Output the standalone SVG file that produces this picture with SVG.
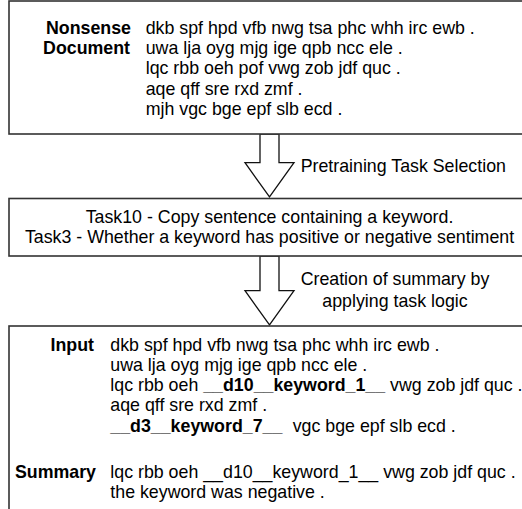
<svg xmlns="http://www.w3.org/2000/svg" width="522" height="509" viewBox="0 0 522 509">
<style>
.box{fill:#fff;stroke:#333;stroke-width:1.6}
.arr{fill:#fff;stroke:#111;stroke-width:1.3;stroke-linejoin:miter}
text{font-family:"Liberation Sans",Arial,sans-serif;font-size:17.8px;fill:#000}
.b{font-weight:bold}
.r{text-anchor:end}
.c{text-anchor:middle}
</style>
<rect width="522" height="509" fill="#fff"/>
<g id="connectors">
<polygon class="arr" points="260,134 279,134 279,162.7 294,162.7 269.5,197 245,162.7 260,162.7"/>
<polygon class="arr" points="260,256 279,256 279,290.7 294,290.7 269.5,325 245,290.7 260,290.7"/>
<text x="403.3" y="172" class="c">Pretraining Task Selection</text>
<text x="395" y="285" class="c">Creation of summary by</text>
<text x="395" y="306.5" class="c">applying task logic</text>
</g>
<g id="nonsense-document">
<rect class="box" x="9" y="1" width="540" height="133"/>
<text x="131" y="33.7" class="b r">Nonsense</text>
<text x="130" y="54" class="b r">Document</text>
<text x="145.7" y="33.7">dkb spf hpd vfb nwg tsa phc whh irc ewb .</text>
<text x="145.7" y="54">uwa lja oyg mjg ige qpb ncc ele .</text>
<text x="145.7" y="74.3">lqc rbb oeh pof vwg zob jdf quc .</text>
<text x="145.7" y="94.5">aqe qff sre rxd zmf .</text>
<text x="145.7" y="114.7">mjh vgc bge epf slb ecd .</text>
</g>
<g id="tasks">
<rect class="box" x="9" y="198.5" width="540" height="57.5"/>
<text x="269.5" y="223.3" class="c">Task10 - Copy sentence containing a keyword.</text>
<text x="269.5" y="243.3" class="c">Task3 - Whether a keyword has positive or negative sentiment</text>
</g>
<g id="input-summary">
<rect class="box" x="9" y="326" width="540" height="200"/>
<text x="94" y="351" class="b r">Input</text>
<text x="110.3" y="351">dkb spf hpd vfb nwg tsa phc whh irc ewb .</text>
<text x="110.3" y="371">uwa lja oyg mjg ige qpb ncc ele .</text>
<text x="110.3" y="391">lqc rbb oeh <tspan class="b">__d10__keyword_1__</tspan> vwg zob jdf quc .</text>
<text x="110.3" y="411">aqe qff sre rxd zmf .</text>
<text x="110.3" y="431.5"><tspan class="b">__d3__keyword_7__</tspan><tspan x="292.7">vgc bge epf slb ecd .</tspan></text>
<text x="96" y="478.3" class="b r">Summary</text>
<text x="110.3" y="478.3">lqc rbb oeh __d10__keyword_1__ vwg zob jdf quc .</text>
<text x="110.3" y="498.3">the keyword was negative .</text>
</g>
</svg>
